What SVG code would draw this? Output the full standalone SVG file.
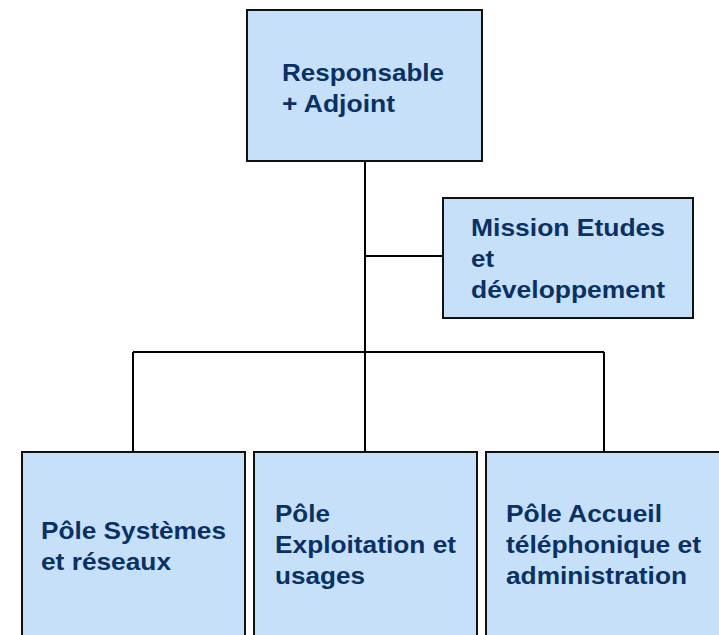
<svg xmlns="http://www.w3.org/2000/svg" width="719" height="635" viewBox="0 0 719 635">
<style>
.box{fill:#C6E0FA;stroke:#111;stroke-width:2}
.t{font-family:"Liberation Sans",Arial,sans-serif;font-weight:bold;font-size:24px;fill:#0A3164}
.c{fill:none;stroke:#000;stroke-width:2}
</style>
<rect width="719" height="635" fill="#fff"/>
<g id="connectors">
<path class="c" d="M365 161V352M365 256H443M133 352H604M133 352V452M365 352V452M604 352V452"/>
</g>
<g id="responsable">
<rect class="box" x="247" y="10" width="235" height="151"/>
<text class="t" x="282" y="81" textLength="162" lengthAdjust="spacingAndGlyphs">Responsable</text>
<text class="t" x="282" y="112" textLength="113" lengthAdjust="spacingAndGlyphs">+ Adjoint</text>
</g>
<g id="mission">
<rect class="box" x="443" y="198" width="250" height="120"/>
<text class="t" x="471" y="236" textLength="194" lengthAdjust="spacingAndGlyphs">Mission Etudes</text>
<text class="t" x="471" y="267" textLength="23" lengthAdjust="spacingAndGlyphs">et</text>
<text class="t" x="471" y="298" textLength="194" lengthAdjust="spacingAndGlyphs">développement</text>
</g>
<g id="pole-systemes">
<rect class="box" x="22" y="452" width="223" height="200"/>
<text class="t" x="41" y="539" textLength="185" lengthAdjust="spacingAndGlyphs">Pôle Systèmes</text>
<text class="t" x="41" y="570" textLength="130" lengthAdjust="spacingAndGlyphs">et réseaux</text>
</g>
<g id="pole-exploitation">
<rect class="box" x="254" y="452" width="223" height="200"/>
<text class="t" x="275" y="522" textLength="55" lengthAdjust="spacingAndGlyphs">Pôle</text>
<text class="t" x="275" y="553" textLength="181" lengthAdjust="spacingAndGlyphs">Exploitation et</text>
<text class="t" x="275" y="584" textLength="90" lengthAdjust="spacingAndGlyphs">usages</text>
</g>
<g id="pole-accueil">
<rect class="box" x="486" y="452" width="250" height="200"/>
<text class="t" x="506" y="522" textLength="156" lengthAdjust="spacingAndGlyphs">Pôle Accueil</text>
<text class="t" x="506" y="553" textLength="195" lengthAdjust="spacingAndGlyphs">téléphonique et</text>
<text class="t" x="506" y="584" textLength="181" lengthAdjust="spacingAndGlyphs">administration</text>
</g>
</svg>
